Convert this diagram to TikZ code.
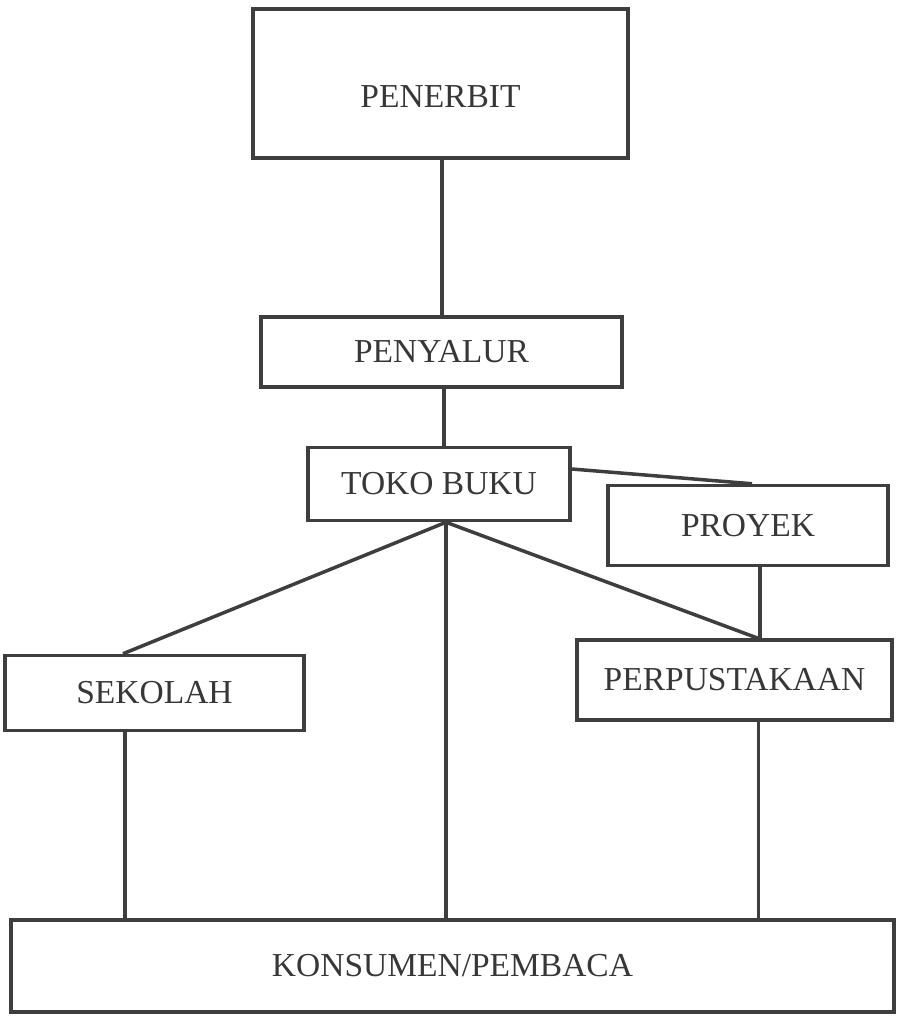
\documentclass[tikz,border=0pt]{standalone}
\usepackage{fontspec}
\setmainfont{Liberation Serif}
\definecolor{ink}{RGB}{62,62,62}
\definecolor{textink}{RGB}{55,55,55}
\begin{document}
\begin{tikzpicture}[x=1pt,y=-1pt,
  box/.style={draw=ink,line width=3.5pt,text=textink,inner sep=0pt,
    font=\fontsize{33.5}{36}\selectfont},
  link/.style={draw=ink,line width=3.5pt}]
\useasboundingbox (0,0) rectangle (899,1022);
\node[box,minimum width=375pt,minimum height=149pt,text height=48pt,text depth=0pt] (penerbit) at (440.5,83.5) {PENERBIT};
\node[box,minimum width=361pt,minimum height=70pt] (penyalur) at (441.5,352) {PENYALUR};
\node[box,minimum width=262pt,minimum height=73pt] (toko) at (439,484) {TOKO BUKU};
\node[box,minimum width=280pt,minimum height=80pt] (proyek) at (748,525.5) {PROYEK};
\node[box,minimum width=315pt,minimum height=80pt] (perpus) at (734.5,680) {PERPUSTAKAAN};
\node[box,minimum width=299pt,minimum height=75pt] (sekolah) at (154.5,693) {SEKOLAH};
\node[box,minimum width=883pt,minimum height=92pt] (kons) at (452.5,966) {KONSUMEN/PEMBACA};
\coordinate (hub) at ([xshift=7pt]toko.south);
\draw[link] ([xshift=1.5pt]penerbit.south) -- ([xshift=1.5pt]penerbit.south |- penyalur.north);
\draw[link] ([xshift=2.5pt]penyalur.south) -- ([xshift=2.5pt]penyalur.south |- toko.north);
\draw[link] ([yshift=15pt]toko.east) -- ([xshift=4pt]proyek.north);
\draw[link] ([xshift=12pt]proyek.south) -- ([xshift=12pt]proyek.south |- perpus.north);
\draw[link] (hub) -- ([xshift=-31.5pt]sekolah.north);
\draw[link] (hub) -- ([xshift=23.5pt]perpus.north);
\draw[link] (hub) -- (hub |- kons.north);
\draw[link] ([xshift=-29.5pt]sekolah.south) -- ([xshift=-29.5pt]sekolah.south |- kons.north);
\draw[link] ([xshift=24pt]perpus.south) -- ([xshift=24pt]perpus.south |- kons.north);
\end{tikzpicture}
\end{document}
